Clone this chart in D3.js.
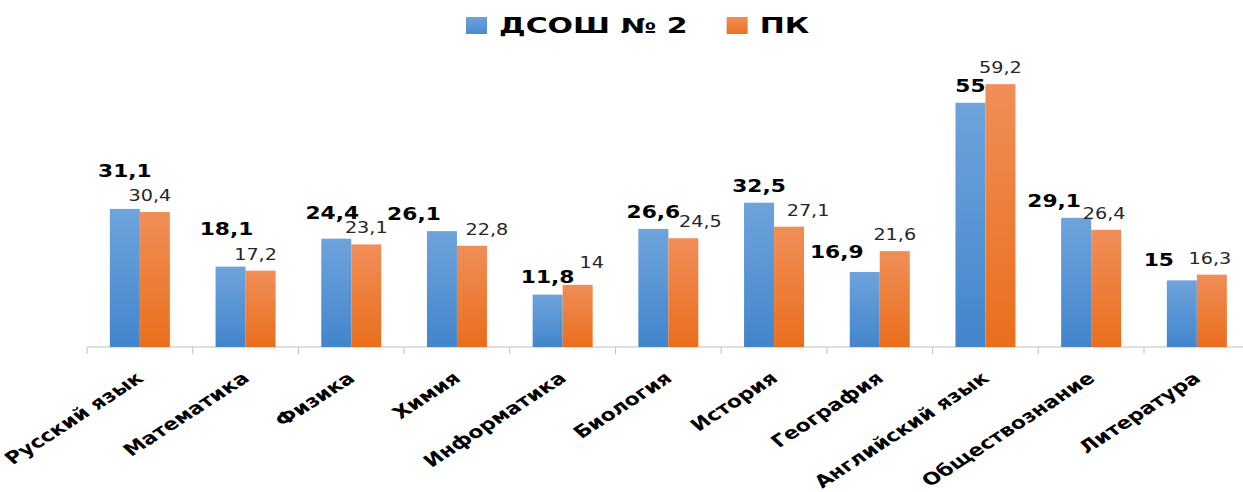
<!DOCTYPE html>
<html><head><meta charset="utf-8">
<script src="https://cdn.jsdelivr.net/npm/d3@7/dist/d3.min.js"></script>
<style>html,body{margin:0;padding:0;background:#fff;overflow:hidden}</style>
</head><body>
<svg id="chart" width="1243" height="492"></svg>
<script>
// ---- data ----
const categories = ["Русский язык","Математика","Физика","Химия","Информатика","Биология","История","География","Английский язык","Обществознание","Литература"];
const seriesNames = ["ДСОШ № 2","ПК"];
const valuesSchool = [31.1,18.1,24.4,26.1,11.8,26.6,32.5,16.9,55,29.1,15];
const valuesPK = [30.4,17.2,23.1,22.8,14,24.5,27.1,21.6,59.2,26.4,16.3];
const labelsSchool = ["31,1","18,1","24,4","26,1","11,8","26,6","32,5","16,9","55","29,1","15"];
const labelsPK = ["30,4","17,2","23,1","22,8","14","24,5","27,1","21,6","59,2","26,4","16,3"];

// ---- layout (label nudges, px) ----
const nudgeSchool = [[0,-21],[-4,-21],[-4,-9],[-28,0],[0,-1],[0,0],[0,0],[-28,-3],[0,0],[-22,0],[-23,-3]];
const nudgePK = [[-5,0],[-5,0],[0,0],[15,0],[14,-6],[17,0],[19,0],[0,0],[0,0],[-2,0],[-2,0]];
const SX = 1.28;

const svg = d3.select("#chart");
const defs = svg.append("defs");
function grad(id, top, bottom){
  const g = defs.append("linearGradient").attr("id",id).attr("x1",0).attr("y1",0).attr("x2",0).attr("y2",1);
  g.append("stop").attr("offset","0%").attr("stop-color",top);
  g.append("stop").attr("offset","100%").attr("stop-color",bottom);
}
grad("gBlue","#6ea3dc","#4285cc");
grad("gOrange","#f08e58","#e96e1c");
const colors = ["url(#gBlue)","url(#gOrange)"];
grad("lBlue","#6ea3dc","#4a8ad0");
grad("lOrange","#f08e58","#e8721f");

const step = 105.7, x0start = 87;
const x0 = d3.scaleBand().domain(categories).range([x0start, x0start + step*categories.length]).padding(0);
const groupW = 60;
const x1 = d3.scaleBand().domain(seriesNames).range([0, groupW]).padding(0);
const y = d3.scaleLinear().domain([0,70]).range([347, 347 - 70*4.44]);

// axis
const axis = d3.axisBottom(x0).tickSize(0).tickFormat("");
const axG = svg.append("g").attr("transform",`translate(0,${y(0)})`).call(axis);
axG.select(".domain").attr("stroke","#bfbfbf").attr("d",`M${x0start},0H1243`);
const bounds = categories.map((c)=>x0(c)).concat([x0start + step*categories.length]);
axG.selectAll(".bt").data(bounds).join("line").attr("class","bt")
  .attr("x1",d=>d).attr("x2",d=>d).attr("y1",0).attr("y2",7).attr("stroke","#bfbfbf");

// bars
const off = (step - groupW)/2;
const rows = categories.map((c,i)=>({c,i,vals:[valuesSchool[i],valuesPK[i]]}));
const grp = svg.append("g").selectAll("g").data(rows).join("g")
  .attr("transform",d=>`translate(${x0(d.c)+off},0)`);
grp.selectAll("rect").data(d=>d.vals.map((v,k)=>({v,k}))).join("rect")
  .attr("x",d=>x1(seriesNames[d.k])).attr("width",x1.bandwidth())
  .attr("y",d=>y(d.v)).attr("height",d=>y(0)-y(d.v))
  .attr("fill",d=>colors[d.k]);

// data labels
function addLabel(val, txt, i, k, nudge, bold, size){
  const cx = x0(categories[i]) + off + x1(seriesNames[k]) + x1.bandwidth()/2 + nudge[0];
  const cy = y(val) - 11 + nudge[1];
  svg.append("g").attr("transform",`translate(${cx},${cy}) scale(${SX},1)`)
    .append("text").attr("text-anchor","middle")
    .attr("font-family","DejaVu Sans").attr("font-size",size)
    .attr("font-weight",bold?"bold":"normal").attr("fill",bold?"#000":"#262626")
    .text(txt);
}
valuesSchool.forEach((v,i)=>addLabel(v,labelsSchool[i],i,0,nudgeSchool[i],true,17));
valuesPK.forEach((v,i)=>addLabel(v,labelsPK[i],i,1,nudgePK[i],false,15));

// category labels
categories.forEach((c)=>{
  const cx = x0(c) + step/2 + 5;
  svg.append("g").attr("transform",`translate(${cx},380) scale(1.3,1) rotate(-40)`)
    .append("text").attr("text-anchor","end")
    .attr("font-family","DejaVu Sans").attr("font-size",17).attr("font-weight","bold").attr("fill","#000")
    .text(c);
});

// legend
const LSX = 1.46;
const leg = svg.append("g");
let lx = 466;
seriesNames.forEach((s,k)=>{
  leg.append("rect").attr("x",lx).attr("y",17).attr("width",21).attr("height",17)
    .attr("fill",k===0?"url(#lBlue)":"url(#lOrange)");
  const tg = leg.append("g").attr("transform",`translate(${lx+33},33) scale(${LSX},1)`);
  const t = tg.append("text").attr("font-family","DejaVu Sans").attr("font-size",20.5)
    .attr("font-weight","bold").attr("fill","#000").text(s);
  const w = t.node().getComputedTextLength()*LSX;
  lx = lx + 33 + w + 39;
});
</script>
</body></html>
